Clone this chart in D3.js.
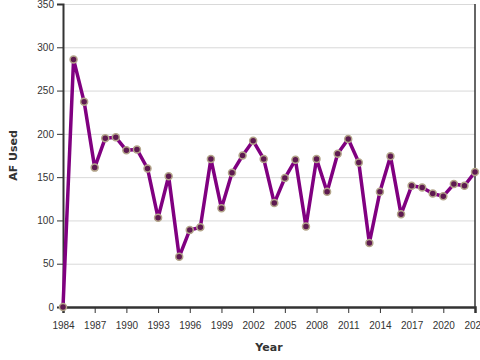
<!DOCTYPE html>
<html>
<head>
<meta charset="utf-8">
<script src="https://cdn.jsdelivr.net/npm/d3@7"></script>
<style>
  body { margin: 0; background: #fff; }
  svg { font-family: "DejaVu Sans", sans-serif; }
  .grid line { stroke: #d9d9d9; }
  .grid path { display: none; }
</style>
</head>
<body>
<div id="chart"></div>
<script>
// years and acre-feet used
var years = [1984,1985,1986,1987,1988,1989,1990,1991,1992,1993,1994,1995,1996,1997,1998,1999,
    2000,2001,2002,2003,2004,2005,2006,2007,2008,2009,2010,2011,2012,2013,2014,2015,2016,2017,
    2018,2019,2020,2021,2022,2023];
var afUsed = [0,286,237,161,195,196,181,182,160,103,151,58,89,92,171,114,
    155,175,192,171,120,149,170,93,171,133,177,194,167,74,133,174,107,140,
    138,131,128,142,140,156];
var yTicks = [0,50,100,150,200,250,300,350];
var xTicks = d3.range(1984, 2024, 3);

var width = 480, height = 360;
var margin = {top: 4, right: 5, bottom: 53, left: 63};

var svg = d3.select("#chart").append("svg")
    .attr("width", width)
    .attr("height", height);

var x = d3.scaleLinear().domain([1984, 2023]).range([margin.left, width - margin.right]);
var y = d3.scaleLinear().domain([0, 350]).range([height - margin.bottom, margin.top]);

// gridlines
svg.append("g")
    .attr("class", "grid")
    .attr("transform", "translate(" + margin.left + ",0)")
    .call(d3.axisLeft(y).tickValues(yTicks).tickSize(-(width - margin.left - margin.right)).tickFormat(""));

// right frame line
svg.append("line")
    .attr("x1", x(2023)).attr("x2", x(2023))
    .attr("y1", y(350)).attr("y2", y(0))
    .attr("stroke", "#333").attr("stroke-width", 1.5);

var xAxis = svg.append("g")
    .attr("transform", "translate(0," + y(0) + ")")
    .call(d3.axisBottom(x).tickValues(xTicks).tickFormat(d3.format("d")).tickSizeOuter(0).tickSize(6));
xAxis.select(".domain").attr("stroke", "#333").attr("stroke-width", 2.5);
xAxis.selectAll(".tick line").attr("stroke", "#333");
xAxis.selectAll("text").attr("font-size", 10).attr("fill", "#333").attr("dy", "1.3em");

var yAxis = svg.append("g")
    .attr("transform", "translate(" + margin.left + ",0)")
    .call(d3.axisLeft(y).tickValues(yTicks).tickSizeOuter(0).tickSize(6));
yAxis.select(".domain").attr("stroke", "#333").attr("stroke-width", 2);
yAxis.selectAll(".tick line").attr("stroke", "#333");
yAxis.selectAll("text").attr("font-size", 10).attr("fill", "#333");

// axis titles
svg.append("text")
    .attr("x", 269).attr("y", 351)
    .attr("text-anchor", "middle")
    .attr("font-size", 11).attr("font-weight", "bold").attr("fill", "#333")
    .text("Year");
svg.append("text")
    .attr("transform", "translate(17," + ((y(0) + y(350)) / 2) + ") rotate(-90)")
    .attr("text-anchor", "middle")
    .attr("font-size", 11).attr("font-weight", "bold").attr("fill", "#333")
    .text("AF Used");

var line = d3.line()
    .x(function(d, i){ return x(years[i]); })
    .y(function(d){ return y(d); });

svg.append("path")
    .datum(afUsed)
    .attr("fill", "none")
    .attr("stroke", "#800080")
    .attr("stroke-width", 3.5)
    .attr("stroke-linejoin", "round")
    .attr("d", line);

svg.selectAll("circle.pt")
    .data(afUsed)
    .enter()
    .append("circle")
    .attr("class", "pt")
    .attr("cx", function(d, i){ return x(years[i]); })
    .attr("cy", function(d){ return y(d); })
    .attr("r", 3.5)
    .attr("fill", "#5e1a50")
    .attr("stroke", "#b3a58a")
    .attr("stroke-width", 1.5);
</script>
</body>
</html>
